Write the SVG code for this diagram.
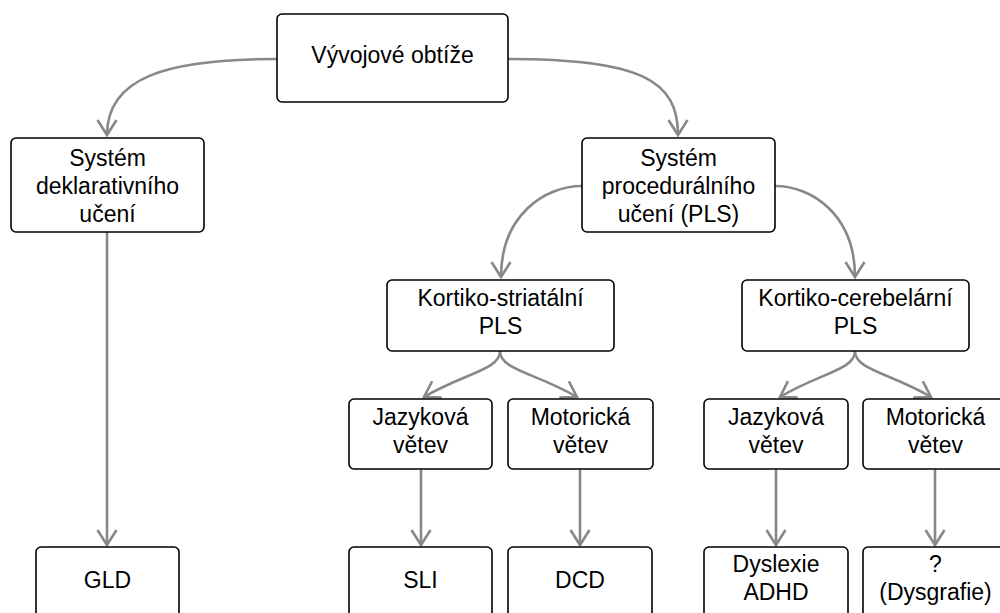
<svg xmlns="http://www.w3.org/2000/svg" width="1000" height="613" viewBox="0 0 1000 613">
  <style>
    .box { fill: #ffffff; stroke: #000000; stroke-width: 1.6; }
    .lbl { font-family: "Liberation Sans", Arial, sans-serif; font-size: 23px; fill: #000000; text-anchor: middle; }
    .edge { fill: none; stroke: #888888; stroke-width: 2.6; marker-end: url(#arrow); }
  </style>
  <defs>
    <marker id="arrow" viewBox="-17 -12 20 24" markerWidth="20" markerHeight="24" refX="0" refY="0" orient="auto" markerUnits="userSpaceOnUse">
      <path d="M-15,-9.5 L0,0 L-15,9.5" fill="none" stroke="#888888" stroke-width="2.6" stroke-linejoin="miter"/>
    </marker>
  </defs>
  <rect width="1000" height="613" fill="#ffffff"/>

  <g id="connectors">
    <path class="edge" d="M277,59 C165,59 107,78 107,135"/>
    <path class="edge" d="M508,59 C640,59 678,80 678,135"/>
    <path class="edge" d="M107,232 L107,545"/>
    <path class="edge" d="M582,186 C545,186 501,215 501,277"/>
    <path class="edge" d="M775,186 C812,186 855,215 855,277"/>
    <path class="edge" d="M500,351 C500,370 465,373 424,397"/>
    <path class="edge" d="M500,351 C500,370 536,373 577,397"/>
    <path class="edge" d="M855,351 C855,370 820,373 780,397"/>
    <path class="edge" d="M855,351 C855,370 890,373 931,397"/>
    <path class="edge" d="M421,469 L421,545"/>
    <path class="edge" d="M580,469 L580,545"/>
    <path class="edge" d="M776,469 L776,545"/>
    <path class="edge" d="M935,469 L935,545"/>
  </g>

  <g id="vyvojove-obtize">
    <rect class="box" x="277" y="14" width="231" height="88" rx="5"/>
    <text class="lbl" x="392.5" y="63">Vývojové obtíže</text>
  </g>

  <g id="deklarativni">
    <rect class="box" x="11" y="138" width="193" height="94" rx="5"/>
    <text class="lbl" x="107.5" y="166">Systém</text>
    <text class="lbl" x="107.5" y="194">deklarativního</text>
    <text class="lbl" x="107.5" y="222">učení</text>
  </g>

  <g id="proceduralni">
    <rect class="box" x="582" y="138" width="193" height="94" rx="5"/>
    <text class="lbl" x="678.5" y="166">Systém</text>
    <text class="lbl" x="678.5" y="194">procedurálního</text>
    <text class="lbl" x="678.5" y="222">učení (PLS)</text>
  </g>

  <g id="kortiko-striatalni">
    <rect class="box" x="387" y="280" width="227" height="71" rx="5"/>
    <text class="lbl" x="500.5" y="306">Kortiko-striatální</text>
    <text class="lbl" x="500.5" y="334">PLS</text>
  </g>

  <g id="kortiko-cerebelarni">
    <rect class="box" x="742" y="280" width="227" height="71" rx="5"/>
    <text class="lbl" x="855.5" y="306">Kortiko-cerebelární</text>
    <text class="lbl" x="855.5" y="334">PLS</text>
  </g>

  <g id="jazykova-1">
    <rect class="box" x="349" y="399" width="143" height="70" rx="5"/>
    <text class="lbl" x="420.5" y="425">Jazyková</text>
    <text class="lbl" x="420.5" y="453">větev</text>
  </g>

  <g id="motoricka-1">
    <rect class="box" x="508" y="399" width="145" height="70" rx="5"/>
    <text class="lbl" x="580.5" y="425">Motorická</text>
    <text class="lbl" x="580.5" y="453">větev</text>
  </g>

  <g id="jazykova-2">
    <rect class="box" x="704" y="399" width="144" height="70" rx="5"/>
    <text class="lbl" x="776" y="425">Jazyková</text>
    <text class="lbl" x="776" y="453">větev</text>
  </g>

  <g id="motoricka-2">
    <rect class="box" x="863" y="399" width="145" height="70" rx="5"/>
    <text class="lbl" x="935.5" y="425">Motorická</text>
    <text class="lbl" x="935.5" y="453">větev</text>
  </g>

  <g id="gld">
    <rect class="box" x="36" y="547" width="143" height="90" rx="5"/>
    <text class="lbl" x="107.5" y="588">GLD</text>
  </g>

  <g id="sli">
    <rect class="box" x="349" y="547" width="143" height="90" rx="5"/>
    <text class="lbl" x="420.5" y="588">SLI</text>
  </g>

  <g id="dcd">
    <rect class="box" x="508" y="547" width="144" height="90" rx="5"/>
    <text class="lbl" x="580" y="588">DCD</text>
  </g>

  <g id="dyslexie-adhd">
    <rect class="box" x="704" y="547" width="144" height="90" rx="5"/>
    <text class="lbl" x="776" y="572">Dyslexie</text>
    <text class="lbl" x="776" y="600">ADHD</text>
  </g>

  <g id="dysgrafie">
    <rect class="box" x="863" y="547" width="145" height="90" rx="5"/>
    <text class="lbl" x="935.5" y="572">?</text>
    <text class="lbl" x="935.5" y="600">(Dysgrafie)</text>
  </g>
</svg>
